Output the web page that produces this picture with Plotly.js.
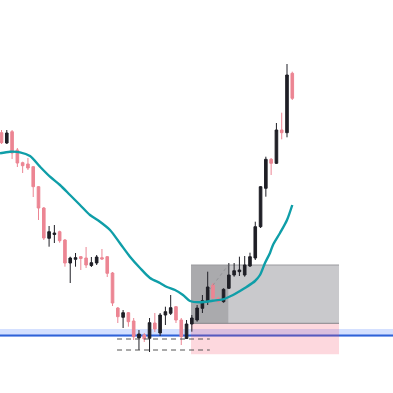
<!DOCTYPE html>
<html>
<head>
<meta charset="utf-8">
<script src="https://cdn.plot.ly/plotly-3.0.1.min.js"></script>
<style>html,body{margin:0;padding:0;background:#fff;}#chart{width:393px;height:393px;}</style>
</head>
<body>
<div id="chart"></div>
<script>
// Candle data (bar index, open, high, low, close)
var barIndex = [];
for (var k = 0; k < 56; k++) barIndex.push(k);
var openVals  = [260.3,250,261.3,243,230.3,229,226.3,206.3,185,154.7,158.5,161.3,153,130,133.7,136.3,135,127.5,130,135.3,136.3,120,85,75.7,80.3,72,55,58,54.7,70,60,78,79.7,86.3,73,54.5,69,73,84.7,91.3,108,95,91.3,104.7,118,121.3,118,127,135,166.3,204.7,233.7,229.7,263,260.3,319.7];
var highVals  = [263,263,263,245,231.3,235,227,207,186,167,168,162.3,154,136.3,140,137,146,136,138,144,137,121,86,83,81,75,63,60,75,80,80,86.3,98,87,75,73,78,88,98,121.3,110,96.3,104.7,130,130,136.3,137,140.3,171.3,207,236.3,235,270,280.3,329,321.3];
var lowVals   = [249,249,234,226,220,223,196,173,153,146.3,150,150.3,126.3,110,126.3,123,125,126,128,133,116,87,70,65,66.3,53,43,51,41,61,57,68,78,70,48,54,61.3,71.3,80,88,94,89.7,90.3,104,116.3,117,116.3,126,133,165,196.3,218,229,253.7,255.7,293];
var closeVals = [250.3,260,240,230,227.3,225,206.3,185,155,161.3,160,152.3,130,135,135.3,134.5,128,130.3,136,134,119.7,90,76.3,80.3,71.3,56.3,59,54,70.3,64,78,81.3,85.3,73,56.3,69,75,85,92.3,106,95,91.3,103.7,118,122.3,123,128,136.3,166.3,206.3,233.7,229.7,263,260.3,318,294.7];

// Moving average line (bar index, value)
var maX = [-0.28,1.61,3.5,5.39,7.28,9.17,11.06,12.96,14.85,16.74,18.63,20.52,22.41,24.3,26.2,28.09,29.98,31.3,32.82,34.33,35.65,37.54,39.95,41.9,43.79,45.11,46.43,47.95,48.89,49.84,50.78,51.35,52.68,54.0,55.0];
var maY = [239.7,241.3,240.7,237,226.3,216.3,208,198,188,178,171.3,163,149.7,136.3,125,115,110,106,103,98,92,90.7,92.3,93.7,98,102,106.3,112,118,130,140,148,160,173,188];

// Horizontal level (blue) and its zone
var levelPrice = 57.5;
var levelZone = [56.3, 64];
// Position tool: entry, target, stop, start/end bars, elapsed bar
var entryPrice = 69.7, targetPrice = 128, stopPrice = 38.7;
var posStart = 35.84, posEnd = 63.84, posNow = 42.9;
// Dashed lows
var dashLevels = [54, 43];
var dashStart = 21.85, dashEnd = 39.4;
// Diagonal dashed path of the position tool
var diagX = [39.3, 42.9], diagY = [103, 128];

var traces = [
  {
    type: 'candlestick',
    x: barIndex, open: openVals, high: highVals, low: lowVals, close: closeVals,
    increasing: {line: {color: '#1f1f26', width: 1}, fillcolor: '#1f1f26'},
    decreasing: {line: {color: '#ec8593', width: 1}, fillcolor: '#ec8593'},
    whiskerwidth: 0,
    hoverinfo: 'none',
    showlegend: false
  },
  {
    type: 'scatter', mode: 'lines',
    x: maX, y: maY,
    line: {color: '#0f9ea8', width: 2.4, shape: 'spline', smoothing: 0.8},
    hoverinfo: 'none', showlegend: false
  },
  {
    type: 'scatter', mode: 'lines',
    x: diagX, y: diagY,
    line: {color: 'rgba(130,130,135,0.6)', width: 1, dash: '3px,3px'},
    hoverinfo: 'none', showlegend: false
  }
];

var shapes = [
  {type: 'rect', xref: 'paper', x0: 0, x1: 1, yref: 'y', y0: levelZone[0], y1: levelZone[1],
   fillcolor: 'rgba(41,98,255,0.2)', line: {width: 0}, layer: 'below'},
  {type: 'line', xref: 'paper', x0: 0, x1: 1, yref: 'y', y0: levelPrice, y1: levelPrice,
   line: {color: '#2f62d8', width: 2}, layer: 'below'},
  {type: 'rect', xref: 'x', x0: posStart, x1: posEnd, yref: 'y', y0: entryPrice, y1: targetPrice,
   fillcolor: '#c9c9cc', line: {width: 0}, layer: 'below'},
  {type: 'rect', xref: 'x', x0: posStart, x1: posNow, yref: 'y', y0: entryPrice, y1: targetPrice,
   fillcolor: '#aaaaad', line: {width: 0}, layer: 'below'},
  {type: 'rect', xref: 'x', x0: posStart, x1: posEnd, yref: 'y', y0: stopPrice, y1: entryPrice,
   fillcolor: 'rgba(245,60,90,0.2)', line: {width: 0}, layer: 'below'},
  {type: 'line', xref: 'x', x0: posStart, x1: posEnd, yref: 'y', y0: targetPrice, y1: targetPrice,
   line: {color: '#9a9a9e', width: 1}, layer: 'below'},
  {type: 'line', xref: 'x', x0: posStart, x1: posEnd, yref: 'y', y0: entryPrice, y1: entryPrice,
   line: {color: '#85858a', width: 1}, layer: 'below'}
];
dashLevels.forEach(function (lv) {
  shapes.push({type: 'line', xref: 'x', x0: dashStart, x1: dashEnd, yref: 'y', y0: lv, y1: lv,
    line: {color: '#555', width: 1, dash: '5px,4px'}, layer: 'above'});
});

var layout = {
  width: 393, height: 393, autosize: false,
  margin: {l: 0, r: 0, t: 0, b: 0, pad: 0},
  paper_bgcolor: '#ffffff', plot_bgcolor: '#ffffff',
  showlegend: false,
  xaxis: {range: [-0.284, 74.05], visible: false, showgrid: false, zeroline: false,
          rangeslider: {visible: false}, fixedrange: true},
  yaxis: {range: [0, 393], visible: false, showgrid: false, zeroline: false, fixedrange: true},
  shapes: shapes,
  hovermode: false
};

Plotly.newPlot('chart', traces, layout, {staticPlot: true, displayModeBar: false});
</script>
</body>
</html>
